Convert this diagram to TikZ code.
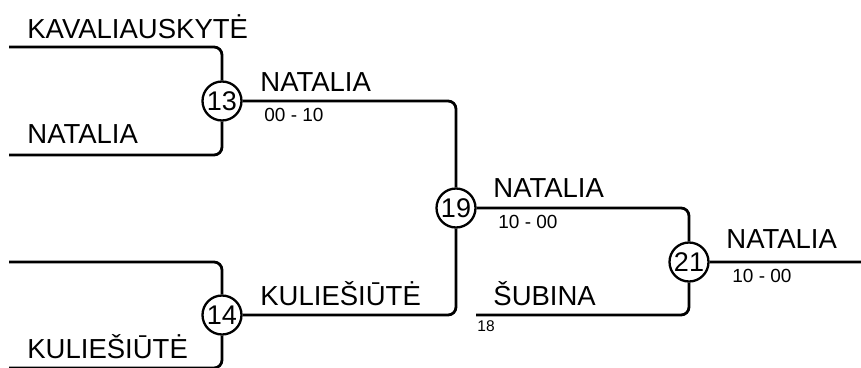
\documentclass[tikz,border=0pt]{standalone}
\usepackage{fontspec}
\setmainfont{Liberation Sans}

\begin{document}
\begin{tikzpicture}[x=1pt, y=-1pt, line width=2.8pt,
	match/.style={circle, draw, line width=2.3pt, inner sep=0pt, minimum size=39pt,
		font=\fontsize{27}{27}\selectfont},
	player/.style={anchor=base west, inner sep=0pt, font=\fontsize{27.5}{30}\selectfont},
	score/.style={anchor=base west, inner sep=0pt, font=\fontsize{19}{20}\selectfont},
	seed/.style={anchor=base west, inner sep=0pt, font=\fontsize{15.5}{16}\selectfont}]
\useasboundingbox (0,0) rectangle (861,367);
\foreach \n/\x/\y in {13/222/101, 14/222/315, 19/456/208, 21/689/262}
	\node[match] (m\n) at (\x,\y) {\n};
\coordinate (e1) at (9,47);
\coordinate (e2) at (9,155);
\coordinate (e3) at (9,262);
\coordinate (e4) at (9,368);
\coordinate (e5) at (476,315);
\coordinate (out) at (870,262);
\draw[rounded corners=8pt]
	(e1) -| (m13) (e2) -| (m13)
	(e3) -| (m14) (e4) -| (m14)
	(m13) -| (m19) (m14) -| (m19)
	(m19) -| (m21) (e5) -| (m21)
	(m21) -- (out);
%names on the lines
\node[player] (p1) at (26,38) {KAVALIAUSKYTĖ};
\node[player] (p2) at (26,143) {NATALIA};
\node[player] (p4) at (26,358) {KULIEŠIŪTĖ};
\node[player] (w13) at (259,91) {NATALIA};
\node[score] (s13) at (263,121) {00 - 10};
\node[player] (w14) at (259,305) {KULIEŠIŪTĖ};
\node[player] (w19) at (492,197) {NATALIA};
\node[score] (s19) at (497,228) {10 - 00};
\node[player] (p5) at (492,305) {ŠUBINA};
\node[seed] (q5) at (476,331) {18};
\node[player] (w21) at (725,248) {NATALIA};
\node[score] (s21) at (731,282) {10 - 00};
\end{tikzpicture}
\end{document}
